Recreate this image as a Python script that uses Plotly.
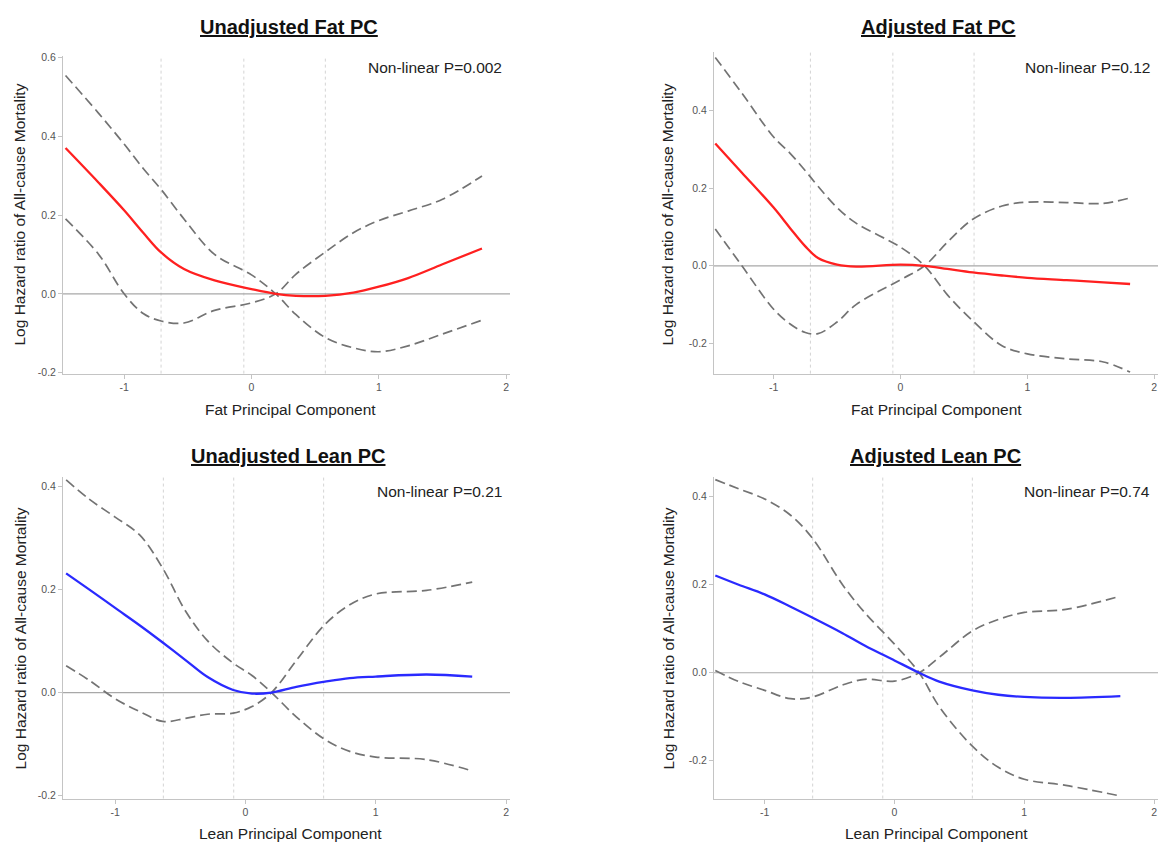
import plotly.graph_objects as go

# ---------------- data ----------------
# Panel 1: Unadjusted Fat PC
fat_u_x = [-1.46, -1.2, -1.0, -0.85, -0.71, -0.53, -0.29, 0.0, 0.19, 0.35, 0.58, 0.8, 1.0, 1.23, 1.5, 1.81]
fat_u_est = [0.37, 0.282, 0.212, 0.155, 0.105, 0.063, 0.034, 0.012, 0.0, -0.005, -0.005, 0.003, 0.018, 0.04, 0.075, 0.115]
fat_u_ci1 = [0.554, 0.458, 0.38, 0.318, 0.265, 0.19, 0.1, 0.048, 0.0, -0.053, -0.111, -0.137, -0.147, -0.132, -0.102, -0.067]
fat_u_ci2 = [0.19, 0.1, 0.0, -0.05, -0.069, -0.074, -0.042, -0.023, 0.0, 0.05, 0.106, 0.155, 0.186, 0.21, 0.24, 0.299]

# Panel 2: Adjusted Fat PC
fat_a_x = [-1.46, -1.25, -1.0, -0.87, -0.75, -0.65, -0.5, -0.35, 0.0, 0.19, 0.37, 0.57, 0.8, 1.0, 1.31, 1.6, 1.81]
fat_a_est = [0.315, 0.24, 0.15, 0.097, 0.05, 0.02, 0.003, -0.002, 0.003, 0.0, -0.008, -0.017, -0.025, -0.031, -0.037, -0.043, -0.047]
fat_a_ci1 = [0.537, 0.445, 0.332, 0.29, 0.245, 0.205, 0.15, 0.11, 0.048, 0.0, -0.075, -0.142, -0.206, -0.227, -0.24, -0.248, -0.274]
fat_a_ci2 = [0.095, 0.0, -0.112, -0.15, -0.172, -0.175, -0.145, -0.1, -0.036, 0.0, 0.061, 0.12, 0.154, 0.164, 0.163, 0.161, 0.175]

# Panel 3: Unadjusted Lean PC
lean_u_x = [-1.376, -1.2, -1.0, -0.81, -0.635, -0.46, -0.29, -0.094, 0.05, 0.2, 0.39, 0.61, 0.8, 1.0, 1.39, 1.74]
lean_u_est = [0.231, 0.2, 0.164, 0.13, 0.097, 0.063, 0.03, 0.005, -0.002, 0.0, 0.011, 0.021, 0.028, 0.031, 0.035, 0.031]
lean_u_ci1 = [0.412, 0.375, 0.34, 0.305, 0.241, 0.158, 0.1, 0.057, 0.033, 0.0, -0.047, -0.091, -0.114, -0.125, -0.13, -0.152]
lean_u_ci2 = [0.052, 0.024, -0.012, -0.037, -0.056, -0.05, -0.042, -0.04, -0.027, 0.0, 0.062, 0.132, 0.17, 0.191, 0.198, 0.214]

# Panel 4: Adjusted Lean PC
lean_a_x = [-1.38, -1.2, -1.0, -0.8, -0.63, -0.4, -0.23, 0.0, 0.19, 0.345, 0.6, 0.8, 1.0, 1.32, 1.74]
lean_a_est = [0.221, 0.2, 0.178, 0.15, 0.125, 0.09, 0.062, 0.028, 0.0, -0.02, -0.04, -0.05, -0.055, -0.057, -0.053]
lean_a_ci1 = [0.439, 0.418, 0.395, 0.358, 0.305, 0.2, 0.137, 0.065, 0.0, -0.077, -0.167, -0.215, -0.242, -0.256, -0.28]
lean_a_ci2 = [0.005, -0.02, -0.04, -0.059, -0.055, -0.028, -0.015, -0.019, 0.0, 0.035, 0.095, 0.121, 0.137, 0.144, 0.174]

# percentile reference lines
fat_knots = [-0.71, -0.06, 0.58]
lean_knots = [-0.63, -0.09, 0.60]

# tick labels
x_tickvals = [-1, 0, 1, 2]
x_ticktext = ["-1", "0", "1", "2"]
y_tickvals_p1 = [-0.2, 0.0, 0.2, 0.4, 0.6]
y_ticktext_p1 = ["-0.2", "0.0", "0.2", "0.4", "0.6"]
y_tickvals_p = [-0.2, 0.0, 0.2, 0.4]
y_ticktext_p = ["-0.2", "0.0", "0.2", "0.4"]

titles = ["Unadjusted Fat PC", "Adjusted Fat PC", "Unadjusted Lean PC", "Adjusted Lean PC"]
xtitles = ["Fat Principal Component", "Fat Principal Component",
           "Lean Principal Component", "Lean Principal Component"]
ytitle = "Log Hazard ratio of All-cause Mortality"
pvals = ["Non-linear P=0.002", "Non-linear P=0.12", "Non-linear P=0.21", "Non-linear P=0.74"]

# ---------------- layout geometry ----------------
W, H = 1165, 852
FONT = "Liberation Sans, Arial, sans-serif"

def px(xp):
    return xp / W

def py(yp):
    return 1 - yp / H

panels = [
    dict(x=fat_u_x, est=fat_u_est, c1=fat_u_ci1, c2=fat_u_ci2, color="#ff2020", knots=fat_knots,
         dom_x=(63, 510), dom_y=(52, 373), xr=(-1.48, 2.03), yr=(-0.2025, 0.6025),
         yt=(y_tickvals_p1, y_ticktext_p1), title_xy=(289, 22), xt_xy=(290, 409), yt_xy=(20, 212),
         p_xy=(504, 63)),
    dict(x=fat_a_x, est=fat_a_est, c1=fat_a_ci1, c2=fat_a_ci2, color="#ff2020", knots=fat_knots,
         dom_x=(714, 1158), dom_y=(48, 373), xr=(-1.47, 2.03), yr=(-0.278, 0.55),
         yt=(y_tickvals_p, y_ticktext_p), title_xy=(938, 22), xt_xy=(936, 409), yt_xy=(668, 212),
         p_xy=(1152, 63)),
    dict(x=lean_u_x, est=lean_u_est, c1=lean_u_ci1, c2=lean_u_ci2, color="#2a2aff", knots=lean_knots,
         dom_x=(63, 510), dom_y=(478, 803), xr=(-1.40, 2.03), yr=(-0.2055, 0.417),
         yt=(y_tickvals_p, y_ticktext_p), title_xy=(288, 456), xt_xy=(290, 838), yt_xy=(20, 641),
         p_xy=(504, 492)),
    dict(x=lean_a_x, est=lean_a_est, c1=lean_a_ci1, c2=lean_a_ci2, color="#2a2aff", knots=lean_knots,
         dom_x=(714, 1158), dom_y=(478, 803), xr=(-1.39, 2.03), yr=(-0.286, 0.444),
         yt=(y_tickvals_p, y_ticktext_p), title_xy=(935, 456), xt_xy=(936, 838), yt_xy=(668, 641),
         p_xy=(1152, 492)),
]

fig = go.Figure()
annotations = []
shapes = []

for i, p in enumerate(panels):
    n = i + 1
    xa = "x" if n == 1 else f"x{n}"
    ya = "y" if n == 1 else f"y{n}"
    xkey = "xaxis" if n == 1 else f"xaxis{n}"
    ykey = "yaxis" if n == 1 else f"yaxis{n}"

    for k in p["knots"]:
        shapes.append(dict(type="line", xref=xa, yref=f"{ya} domain", x0=k, x1=k, y0=0, y1=1,
                           line=dict(color="#d4d4d4", width=1, dash="dot"), layer="below"))
    shapes.append(dict(type="line", xref=f"{xa} domain", yref=ya, x0=0, x1=1, y0=0, y1=0,
                       line=dict(color="#a8a8a8", width=1.2), layer="below"))

    for ci in (p["c1"], p["c2"]):
        fig.add_trace(go.Scatter(x=p["x"], y=ci, mode="lines", xaxis=xa, yaxis=ya,
                                 line=dict(color="#737373", width=1.7, dash="10px,5px",
                                           shape="spline", smoothing=1.0),
                                 showlegend=False, hoverinfo="skip"))
    fig.add_trace(go.Scatter(x=p["x"], y=p["est"], mode="lines", xaxis=xa, yaxis=ya,
                             line=dict(color=p["color"], width=2.3, shape="spline", smoothing=1.0),
                             showlegend=False))

    common = dict(showgrid=False, zeroline=False, showline=True, linecolor="#c4c4c4", linewidth=1,
                  ticks="outside", ticklen=4, tickcolor="#c4c4c4",
                  tickfont=dict(family=FONT, size=10.5, color="#555555"))
    fig.layout[xkey] = dict(domain=[px(p["dom_x"][0]), px(p["dom_x"][1])], range=list(p["xr"]),
                            anchor=ya, tickvals=x_tickvals, ticktext=x_ticktext, **common)
    fig.layout[ykey] = dict(domain=[py(p["dom_y"][1]), py(p["dom_y"][0])], range=list(p["yr"]),
                            anchor=xa, tickvals=p["yt"][0], ticktext=p["yt"][1], **common)

    annotations.append(dict(text=f"<b><u>{titles[i]}</u></b>", xref="paper", yref="paper",
                            x=px(p["title_xy"][0]), y=py(p["title_xy"][1]), showarrow=False,
                            xanchor="center", yanchor="middle",
                            font=dict(family=FONT, size=20, color="#111111")))
    annotations.append(dict(text=xtitles[i], xref="paper", yref="paper",
                            x=px(p["xt_xy"][0]), y=py(p["xt_xy"][1]), showarrow=False,
                            xanchor="center", yanchor="middle",
                            font=dict(family=FONT, size=15.5, color="#222222")))
    annotations.append(dict(text=ytitle, xref="paper", yref="paper", textangle=-90,
                            x=px(p["yt_xy"][0]), y=py(p["yt_xy"][1]), showarrow=False,
                            xanchor="center", yanchor="middle",
                            font=dict(family=FONT, size=15.5, color="#222222")))
    annotations.append(dict(text=pvals[i], xref="paper", yref="paper",
                            x=px(p["p_xy"][0]), y=py(p["p_xy"][1]), showarrow=False,
                            xanchor="right", yanchor="middle",
                            font=dict(family=FONT, size=15.5, color="#222222")))

fig.update_layout(width=W, height=H, margin=dict(l=0, r=0, t=0, b=0),
                  paper_bgcolor="white", plot_bgcolor="white",
                  annotations=annotations, shapes=shapes, showlegend=False)

fig.write_html("out.html", config={"displayModeBar": False},
               post_script="document.body.style.margin='0';document.body.style.overflow='hidden';")
